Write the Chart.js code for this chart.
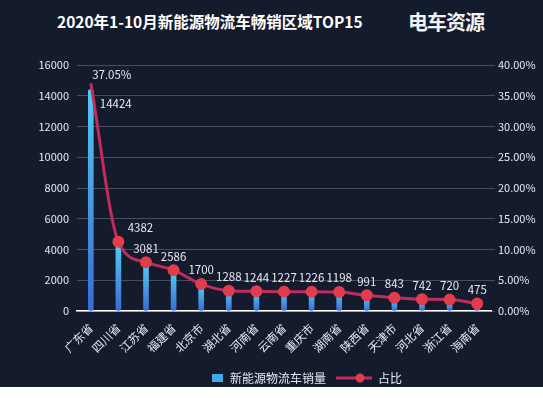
<!DOCTYPE html>
<html>
<head>
<meta charset="utf-8">
<script src="https://cdn.jsdelivr.net/npm/chart.js@4.4.1/dist/chart.umd.min.js"></script>
<style>
  html, body { margin: 0; padding: 0; background: #fff; }
  #wrap { position: relative; width: 543px; height: 387px; background: #141b2d; overflow: hidden; }
  #title { position: absolute; left: 57px; top: 10px; color: #fff; font: bold 15.5px "Noto Sans CJK SC", sans-serif; white-space: nowrap; }
  #logo { position: absolute; left: 408px; top: 7px; color: #f2f2f2; font: bold 20px "Noto Sans CJK SC", sans-serif; letter-spacing: -1px; white-space: nowrap; }
  canvas { position: absolute; left: 0; top: 0; }
</style>
</head>
<body>
<div id="wrap">
  <div id="title">2020年1-10月新能源物流车畅销区域TOP15</div>
  <div id="logo">电车资源</div>
  <canvas id="c" width="543" height="387"></canvas>
</div>
<script>
const FONT = "'Noto Sans CJK SC', 'Noto Sans', sans-serif";
const C = {
  bg: "#141b2d", ink: "#e6e9ef", grid: "rgba(255,255,255,0.22)",
  line: "#c22c5c", dot: "#e23c4e", barTop: "#52cdf2", barBot: "#3a6ad6",
};

// data
const regions = ["广东省", "四川省", "江苏省", "福建省", "北京市", "湖北省", "河南省", "云南省",
                 "重庆市", "湖南省", "陕西省", "天津市", "河北省", "浙江省", "海南省"];
const sales = [14424, 4382, 3081, 2586, 1700, 1288, 1244, 1227, 1226, 1198, 991, 843, 742, 720, 475];
const share = [37.05, 11.26, 7.91, 6.64, 4.37, 3.31, 3.20, 3.15, 3.15, 3.08, 2.55, 2.17, 1.91, 1.85, 1.22];
const legendNames = ["新能源物流车销量", "占比"];

// each bar gets its own cyan->blue gradient, top to bottom
function barGradient(ctx) {
  const area = ctx.chart.chartArea;
  if (!area || ctx.type !== "data") return C.barTop;
  const top = ctx.chart.scales.y.getPixelForValue(ctx.raw);
  const g = ctx.chart.ctx.createLinearGradient(0, top, 0, area.bottom);
  g.addColorStop(0, C.barTop);
  g.addColorStop(1, C.barBot);
  return g;
}

/* ---------- value labels + legend ---------- */
const labelPlugin = {
  id: "labels",
  afterDatasetsDraw(chart) {
    const ctx = chart.ctx;
    const bars = chart.getDatasetMeta(0).data;
    const pts = chart.getDatasetMeta(1).data;
    ctx.save();
    ctx.fillStyle = C.ink;
    ctx.font = "11.5px " + FONT;
    ctx.textAlign = "center";
    ctx.textBaseline = "middle";
    sales.forEach((v, i) => {
      if (i === 0) {
        ctx.fillText(String(v), bars[0].x + 25, bars[0].y + 14);
        ctx.fillText(share[0].toFixed(2) + "%", pts[0].x + 21, pts[0].y - 9);
      } else if (i === 1) {
        ctx.fillText(String(v), pts[i].x + 22, pts[i].y - 14);
      } else {
        ctx.fillText(String(v), pts[i].x, pts[i].y - 14);
      }
    });

    // legend
    const y = 378;
    ctx.fillStyle = "#3fa9ee";
    ctx.fillRect(212, y - 4, 11, 8);
    ctx.fillStyle = C.ink;
    ctx.font = "12px " + FONT;
    ctx.textAlign = "left";
    ctx.fillText(legendNames[0], 230, y);
    const lx = ctx.measureText(legendNames[0]).width + 240;
    ctx.strokeStyle = C.line;
    ctx.lineWidth = 3;
    ctx.beginPath(); ctx.moveTo(lx, y); ctx.lineTo(lx + 36, y); ctx.stroke();
    ctx.fillStyle = C.dot;
    ctx.beginPath(); ctx.arc(lx + 24, y, 4.5, 0, Math.PI * 2); ctx.fill();
    ctx.fillStyle = C.ink;
    ctx.fillText(legendNames[1], lx + 42, y);
    ctx.restore();
  },
};

new Chart(document.getElementById("c"), {
  data: {
    labels: regions,
    datasets: [
      {
        type: "bar", data: sales, yAxisID: "y", order: 2,
        backgroundColor: barGradient, barThickness: 5, borderRadius: 3, borderSkipped: false,
      },
      {
        type: "line", data: share, yAxisID: "y1", order: 1,
        borderColor: C.line, borderWidth: 3, tension: 0.4, cubicInterpolationMode: "monotone",
        pointRadius: share.map((_, i) => (i === 0 ? 0 : 4.5)),
        pointBackgroundColor: C.dot, pointBorderColor: C.dot,
      },
    ],
  },
  options: {
    responsive: false, animation: false,
    layout: { padding: { top: 65, right: 0, left: 0, bottom: 0 } },
    plugins: { legend: { display: false }, tooltip: { enabled: false } },
    scales: {
      x: {
        grid: { display: false },
        border: { color: "#ffffff", width: 1.5 },
        ticks: { color: C.ink, font: { family: FONT, size: 11.5 }, minRotation: 45, maxRotation: 45, padding: 2 },
        afterFit(s) { s.height = 76; },
      },
      y: {
        position: "left", min: 0, max: 16000,
        ticks: { stepSize: 2000, color: C.ink, font: { family: FONT, size: 11 }, padding: 8,
                 callback: (v) => String(v) },
        grid: { color: C.grid, drawTicks: false },
        border: { display: false },
        afterFit(s) { s.width = 77; },
      },
      y1: {
        position: "right", min: 0, max: 40,
        ticks: { stepSize: 5, color: C.ink, font: { family: FONT, size: 11 }, padding: 3,
                 callback: (v) => v.toFixed(2) + "%" },
        grid: { drawOnChartArea: false, drawTicks: true, tickLength: 4, color: C.grid },
        border: { display: false },
        afterFit(s) { s.width = 52; },
      },
    },
  },
  plugins: [labelPlugin],
});
</script>
</body>
</html>
